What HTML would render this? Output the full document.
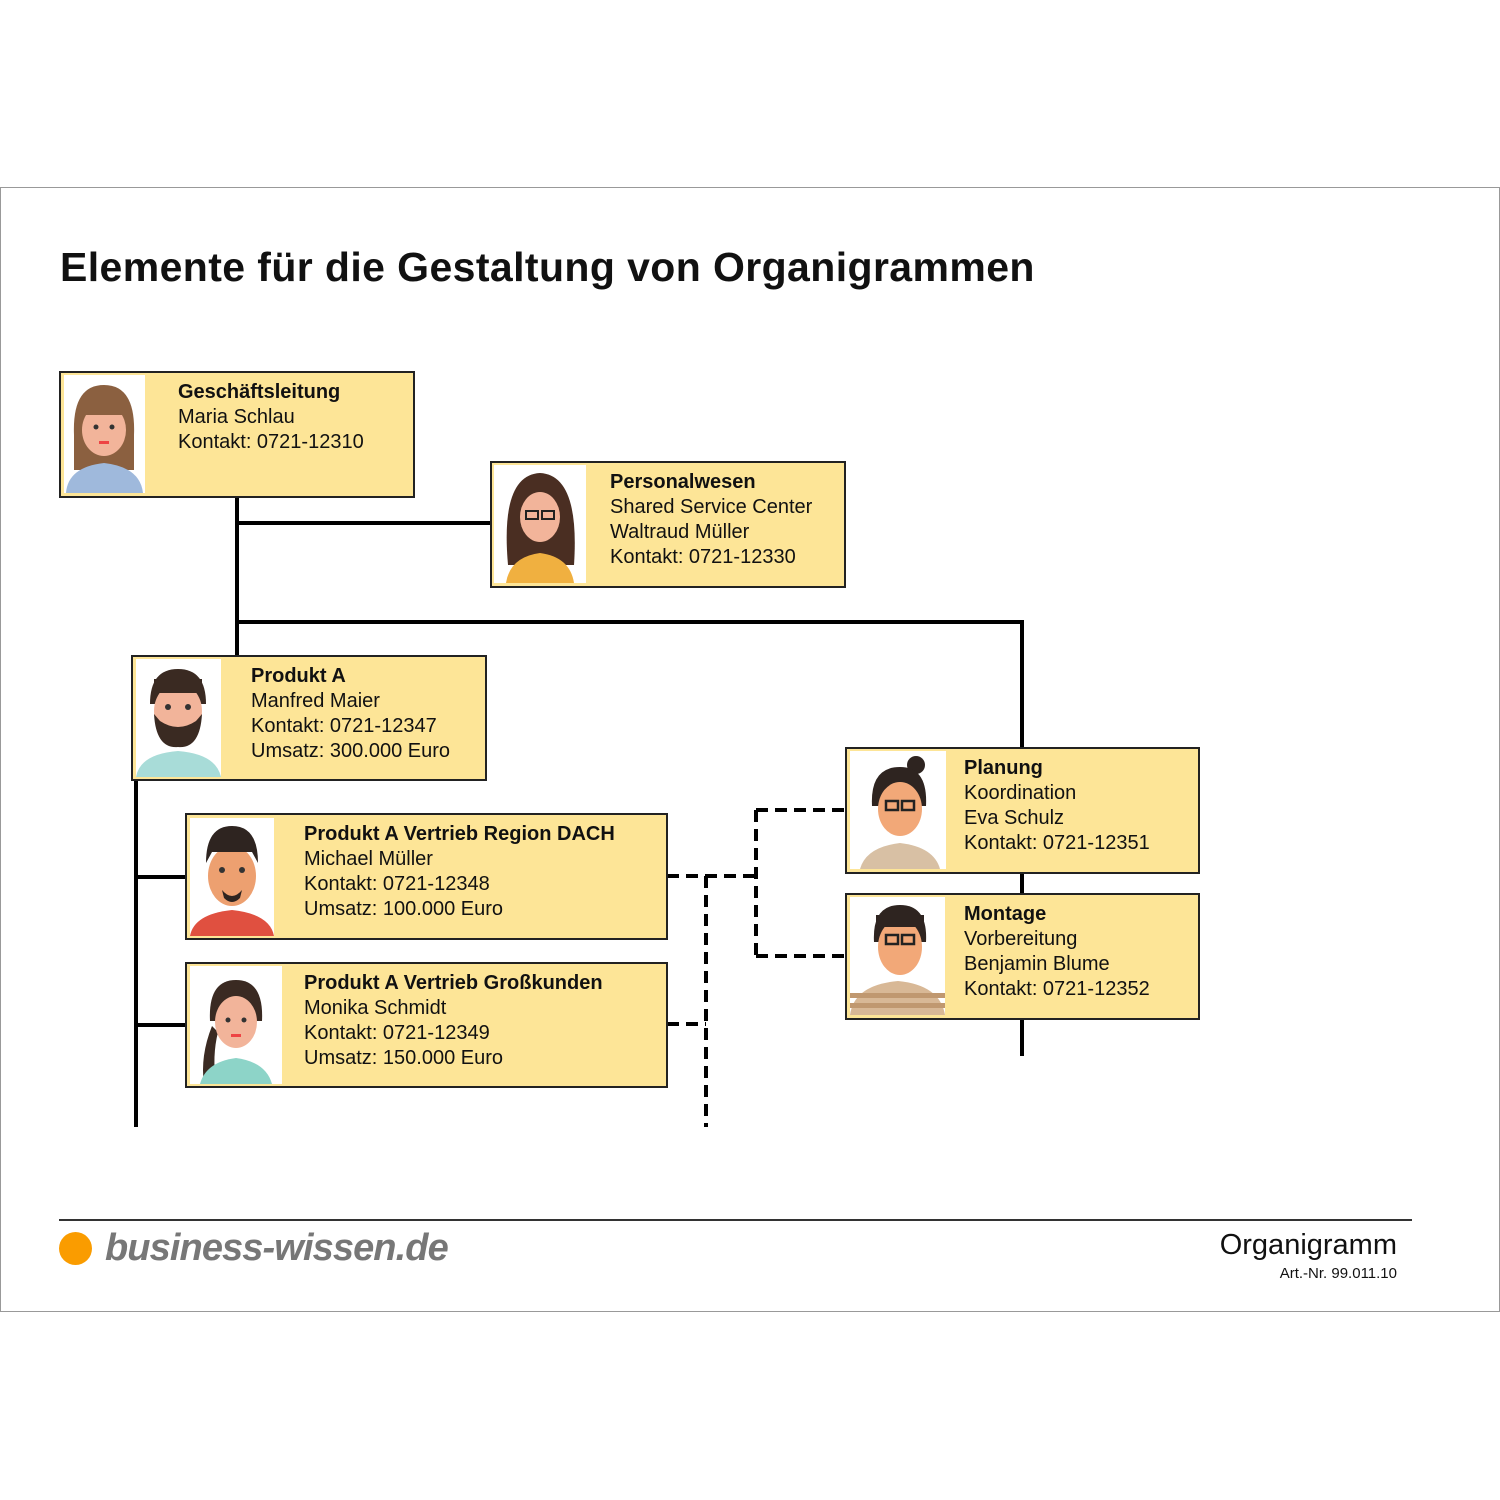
<!DOCTYPE html>
<html><head><meta charset="utf-8"><style>
body{margin:0;width:1500px;height:1500px;background:#fff;position:relative;font-family:"Liberation Sans",sans-serif;overflow:hidden}
.frame{position:absolute;left:0;top:187px;width:1498px;height:1123px;border:1px solid #999}
.box{position:absolute;background:#fde597;border:2px solid #222;box-sizing:border-box}
.ph{position:absolute;background:#fff;overflow:hidden}
.t{position:absolute;font-size:20px;line-height:25px;color:#111;white-space:nowrap}
.t b{font-weight:bold}
svg.lines{position:absolute;left:0;top:0}
</style></head><body>
<div class="frame"></div>
<div style="position:absolute;left:60px;top:244px;font-size:41px;font-weight:bold;color:#111;letter-spacing:0.4px">Elemente für die Gestaltung von Organigrammen</div>

<svg class="lines" width="1500" height="1500">
<g stroke="#000" stroke-width="4" fill="none">
<path d="M237 497V655M237 523H490M237 622H1024M1022 622V747M1022 873V893M1022 1019V1056M136 780V1127M136 877H185M136 1025H185"/>
</g>
<g stroke="#000" stroke-width="4" fill="none" stroke-dasharray="12 7">
<path d="M667 876H757M706 876V1127M667 1024H706M756 810V956M756 810H845M756 956H845"/>
</g>
</svg>

<!-- Box 1 -->
<div class="box" style="left:59px;top:371px;width:356px;height:127px"></div>
<div class="ph" style="left:64px;top:375px;width:81px;height:118px">
<svg width="81" height="118"><path d="M10 60 Q8 10 40 10 Q72 10 70 60 L70 95 L10 95Z" fill="#8b6040"/><ellipse cx="40" cy="55" rx="22" ry="26" fill="#f2b49a"/><rect x="18" y="28" width="44" height="12" fill="#8b6040"/><path d="M2 118 Q4 92 40 88 Q76 92 79 118Z" fill="#9fb9dc"/><circle cx="32" cy="52" r="2.5" fill="#333"/><circle cx="48" cy="52" r="2.5" fill="#333"/><rect x="35" y="66" width="10" height="3" fill="#e44"/></svg></div>
<div class="t" style="left:178px;top:380px"><b>Geschäftsleitung</b><br>Maria Schlau<br>Kontakt: 0721-12310</div>

<!-- Box 2 -->
<div class="box" style="left:490px;top:461px;width:356px;height:127px"></div>
<div class="ph" style="left:494px;top:465px;width:92px;height:118px">
<svg width="92" height="118"><path d="M14 100 Q6 10 46 8 Q86 10 80 100Z" fill="#4a2e22"/><ellipse cx="46" cy="52" rx="20" ry="25" fill="#f2b49a"/><path d="M12 118 Q16 92 46 88 Q76 92 80 118Z" fill="#f0b040"/><rect x="32" y="46" width="12" height="8" fill="none" stroke="#222" stroke-width="2"/><rect x="48" y="46" width="12" height="8" fill="none" stroke="#222" stroke-width="2"/></svg></div>
<div class="t" style="left:610px;top:470px"><b>Personalwesen</b><br>Shared Service Center<br>Waltraud Müller<br>Kontakt: 0721-12330</div>

<!-- Box 3 -->
<div class="box" style="left:131px;top:655px;width:356px;height:126px"></div>
<div class="ph" style="left:136px;top:659px;width:85px;height:118px">
<svg width="85" height="118"><path d="M14 45 Q14 10 42 10 Q70 10 70 45Z" fill="#3a2a22"/><ellipse cx="42" cy="52" rx="24" ry="28" fill="#f2b49a"/><path d="M18 55 Q20 90 42 88 Q64 90 66 55 L60 62 Q42 74 24 62Z" fill="#3a2a22"/><rect x="18" y="20" width="48" height="14" fill="#3a2a22"/><path d="M0 118 Q4 95 42 92 Q80 95 85 118Z" fill="#a8dcd8"/><circle cx="32" cy="48" r="3" fill="#333"/><circle cx="52" cy="48" r="3" fill="#333"/></svg></div>
<div class="t" style="left:251px;top:664px"><b>Produkt A</b><br>Manfred Maier<br>Kontakt: 0721-12347<br>Umsatz: 300.000 Euro</div>

<!-- Box 4 -->
<div class="box" style="left:185px;top:813px;width:483px;height:127px"></div>
<div class="ph" style="left:190px;top:818px;width:84px;height:118px">
<svg width="84" height="118"><ellipse cx="42" cy="58" rx="24" ry="30" fill="#eda070"/><path d="M16 45 Q16 8 42 8 Q68 8 68 45 L62 34 L22 34Z" fill="#2e2420"/><path d="M32 72 Q42 84 52 72 L50 80 Q42 88 34 80Z" fill="#2e2420"/><path d="M0 118 Q4 96 42 92 Q80 96 84 118Z" fill="#e05040"/><circle cx="32" cy="52" r="3" fill="#333"/><circle cx="52" cy="52" r="3" fill="#333"/></svg></div>
<div class="t" style="left:304px;top:822px"><b>Produkt A Vertrieb Region DACH</b><br>Michael Müller<br>Kontakt: 0721-12348<br>Umsatz: 100.000 Euro</div>

<!-- Box 5 -->
<div class="box" style="left:185px;top:962px;width:483px;height:126px"></div>
<div class="ph" style="left:190px;top:966px;width:92px;height:118px">
<svg width="92" height="118"><path d="M20 55 Q18 14 46 14 Q74 14 72 55Z" fill="#3a2a22"/><path d="M22 60 Q10 90 14 118 L26 118 Q22 90 28 66Z" fill="#3a2a22"/><ellipse cx="46" cy="56" rx="21" ry="26" fill="#f2b49a"/><path d="M10 118 Q16 96 46 92 Q76 96 82 118Z" fill="#8dd4c8"/><circle cx="38" cy="54" r="2.5" fill="#333"/><circle cx="54" cy="54" r="2.5" fill="#333"/><rect x="41" y="68" width="10" height="3" fill="#e44"/></svg></div>
<div class="t" style="left:304px;top:971px"><b>Produkt A Vertrieb Großkunden</b><br>Monika Schmidt<br>Kontakt: 0721-12349<br>Umsatz: 150.000 Euro</div>

<!-- Box 6 -->
<div class="box" style="left:845px;top:747px;width:355px;height:127px"></div>
<div class="ph" style="left:850px;top:751px;width:96px;height:118px">
<svg width="96" height="118"><circle cx="66" cy="14" r="9" fill="#2e2420"/><path d="M22 55 Q20 16 50 16 Q78 16 76 55Z" fill="#2e2420"/><ellipse cx="50" cy="58" rx="22" ry="27" fill="#f2a878"/><rect x="36" y="50" width="12" height="9" fill="none" stroke="#222" stroke-width="2.5"/><rect x="52" y="50" width="12" height="9" fill="none" stroke="#222" stroke-width="2.5"/><path d="M10 118 Q16 96 50 92 Q84 96 90 118Z" fill="#d8c0a4"/></svg></div>
<div class="t" style="left:964px;top:756px"><b>Planung</b><br>Koordination<br>Eva Schulz<br>Kontakt: 0721-12351</div>

<!-- Box 7 -->
<div class="box" style="left:845px;top:893px;width:355px;height:127px"></div>
<div class="ph" style="left:850px;top:897px;width:95px;height:118px">
<svg width="95" height="118"><path d="M24 45 Q22 8 50 8 Q78 8 76 45Z" fill="#2e2420"/><ellipse cx="50" cy="50" rx="22" ry="28" fill="#f2a878"/><rect x="26" y="18" width="48" height="12" fill="#2e2420"/><rect x="36" y="38" width="12" height="9" fill="none" stroke="#222" stroke-width="2.5"/><rect x="52" y="38" width="12" height="9" fill="none" stroke="#222" stroke-width="2.5"/><path d="M0 118 Q4 88 48 84 Q90 88 95 118Z" fill="#d8b896"/><rect x="0" y="96" width="95" height="5" fill="#c09870"/><rect x="0" y="106" width="95" height="5" fill="#c09870"/></svg></div>
<div class="t" style="left:964px;top:902px"><b>Montage</b><br>Vorbereitung<br>Benjamin Blume<br>Kontakt: 0721-12352</div>

<!-- footer -->
<div style="position:absolute;left:59px;top:1219px;width:1353px;height:2px;background:#333"></div>
<div style="position:absolute;left:59px;top:1232px;width:33px;height:33px;border-radius:50%;background:#fa9c00"></div>
<div style="position:absolute;left:105px;top:1227px;font-size:38px;font-weight:bold;font-style:italic;color:#777;letter-spacing:-0.9px">business-wissen.de</div>
<div style="position:absolute;right:103px;top:1229px;font-size:29px;color:#111">Organigramm</div>
<div style="position:absolute;right:103px;top:1265px;font-size:15px;color:#111">Art.-Nr. 99.011.10</div>
</body></html>
